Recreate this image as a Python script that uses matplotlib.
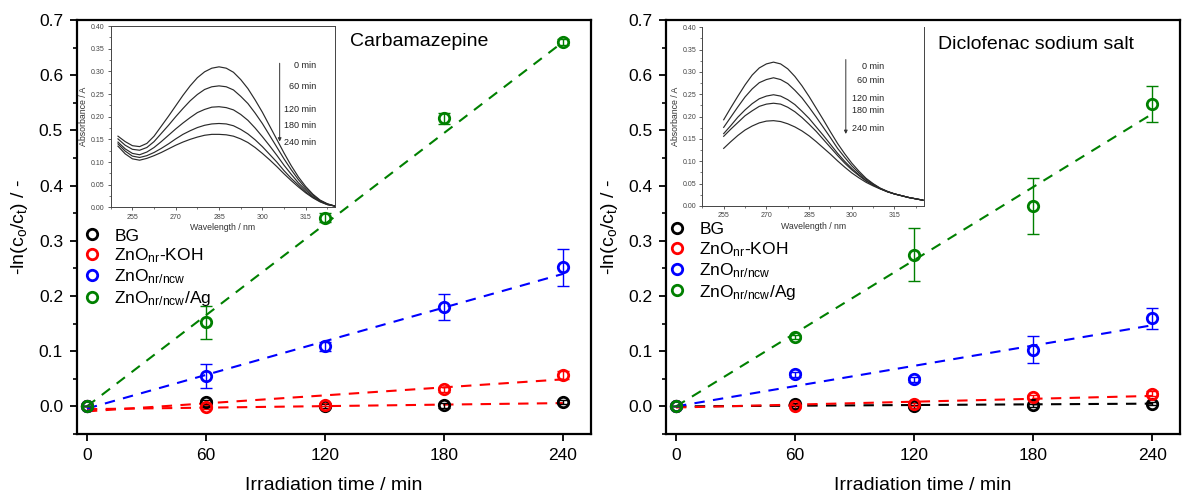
import matplotlib
matplotlib.use("Agg")
import matplotlib.pyplot as plt
import numpy as np

plt.rcParams['font.family'] = ['Liberation Sans', 'DejaVu Sans']
plt.rcParams['mathtext.fontset'] = 'custom'
plt.rcParams['mathtext.rm'] = 'Liberation Sans'
plt.rcParams['mathtext.it'] = 'Liberation Sans:italic'
plt.rcParams['mathtext.bf'] = 'Liberation Sans:bold'

# ---------------- data ----------------
time = [0, 60, 120, 180, 240]
fit_t = [0, 240]

series_labels = ['BG', r'ZnO$_{\rm nr}$-KOH', r'ZnO$_{\rm nr/ncw}$', r'ZnO$_{\rm nr/ncw}$/Ag']
series_colors = ['black', '#ff0000', '#0000ff', '#008000']

# Carbamazepine (left)
cbz_bg = [0.0, 0.008, 0.001, 0.002, 0.008]
cbz_bg_err = [0.0, 0.004, 0.004, 0.004, 0.003]
cbz_koh = [0.0, -0.001, 0.003, 0.031, 0.057]
cbz_koh_err = [0.0, 0.003, 0.003, 0.005, 0.007]
cbz_ncw = [0.0, 0.055, 0.109, 0.180, 0.252]
cbz_ncw_err = [0.0, 0.021, 0.008, 0.024, 0.033]
cbz_ag = [0.0, 0.152, 0.342, 0.522, 0.660]
cbz_ag_err = [0.0, 0.030, 0.008, 0.010, 0.005]
cbz_fit_bg = [-0.005, 0.006]
cbz_fit_koh = [-0.009, 0.049]
cbz_fit_ncw = [-0.004, 0.240]
cbz_fit_ag = [0.0, 0.660]

# Diclofenac (right)
dcf_bg = [0.0, 0.004, 0.0, 0.002, 0.005]
dcf_bg_err = [0.0, 0.003, 0.003, 0.003, 0.003]
dcf_koh = [0.0, 0.0, 0.004, 0.017, 0.023]
dcf_koh_err = [0.0, 0.002, 0.003, 0.004, 0.005]
dcf_ncw = [0.0, 0.058, 0.049, 0.103, 0.160]
dcf_ncw_err = [0.0, 0.005, 0.004, 0.024, 0.019]
dcf_ag = [0.0, 0.126, 0.275, 0.363, 0.548]
dcf_ag_err = [0.0, 0.004, 0.048, 0.050, 0.033]
dcf_fit_bg = [0.0, 0.005]
dcf_fit_koh = [-0.002, 0.019]
dcf_fit_ncw = [0.0, 0.147]
dcf_fit_ag = [0.0, 0.530]

# Inset spectra (read every 2.5 nm)
spec_times = ['0 min', '60 min', '120 min', '180 min', '240 min']
cbz_wl = np.arange(250, 325.1, 2.5)
cbz_abs_0 = [0.157, 0.145, 0.136, 0.134, 0.141, 0.157, 0.179, 0.201, 0.224, 0.247, 0.268,
             0.286, 0.299, 0.307, 0.310, 0.307, 0.298, 0.282, 0.262, 0.237, 0.210, 0.180,
             0.150, 0.120, 0.092, 0.067, 0.046, 0.029, 0.016, 0.008, 0.003]
cbz_abs_60 = [0.151, 0.137, 0.128, 0.126, 0.132, 0.145, 0.163, 0.181, 0.200, 0.218, 0.235,
              0.249, 0.260, 0.266, 0.268, 0.266, 0.259, 0.245, 0.229, 0.208, 0.185, 0.159,
              0.133, 0.107, 0.083, 0.061, 0.042, 0.027, 0.015, 0.007, 0.003]
cbz_abs_120 = [0.144, 0.129, 0.119, 0.116, 0.122, 0.132, 0.145, 0.159, 0.173, 0.186, 0.198,
               0.209, 0.216, 0.221, 0.222, 0.220, 0.215, 0.205, 0.192, 0.175, 0.156, 0.136,
               0.115, 0.093, 0.073, 0.054, 0.038, 0.024, 0.014, 0.007, 0.003]
cbz_abs_180 = [0.140, 0.124, 0.113, 0.110, 0.114, 0.121, 0.130, 0.140, 0.151, 0.161, 0.169,
               0.176, 0.181, 0.184, 0.185, 0.184, 0.180, 0.172, 0.162, 0.149, 0.134, 0.117,
               0.100, 0.081, 0.064, 0.049, 0.034, 0.022, 0.013, 0.006, 0.003]
cbz_abs_240 = [0.135, 0.118, 0.107, 0.104, 0.108, 0.114, 0.121, 0.129, 0.137, 0.144, 0.150,
               0.155, 0.159, 0.161, 0.161, 0.160, 0.157, 0.151, 0.143, 0.132, 0.119, 0.105,
               0.090, 0.074, 0.059, 0.045, 0.032, 0.021, 0.012, 0.006, 0.003]

dcf_wl = np.arange(255, 325.1, 2.5)
dcf_abs_0 = [0.193, 0.220, 0.246, 0.271, 0.293, 0.309, 0.318, 0.322, 0.318, 0.307, 0.290,
             0.269, 0.245, 0.219, 0.193, 0.166, 0.140, 0.117, 0.096, 0.078, 0.062, 0.050,
             0.040, 0.033, 0.027, 0.023, 0.019, 0.016, 0.013]
dcf_abs_60 = [0.176, 0.199, 0.222, 0.244, 0.262, 0.276, 0.283, 0.287, 0.283, 0.274, 0.259,
              0.242, 0.221, 0.199, 0.176, 0.153, 0.129, 0.109, 0.090, 0.074, 0.060, 0.049,
              0.039, 0.032, 0.027, 0.023, 0.019, 0.016, 0.013]
dcf_abs_120 = [0.162, 0.180, 0.199, 0.215, 0.229, 0.240, 0.246, 0.249, 0.246, 0.238, 0.227,
               0.212, 0.196, 0.177, 0.158, 0.138, 0.118, 0.100, 0.084, 0.070, 0.057, 0.047,
               0.039, 0.032, 0.027, 0.023, 0.019, 0.016, 0.013]
dcf_abs_180 = [0.156, 0.172, 0.187, 0.202, 0.213, 0.223, 0.228, 0.230, 0.228, 0.221, 0.211,
               0.198, 0.183, 0.167, 0.149, 0.131, 0.113, 0.096, 0.081, 0.068, 0.056, 0.047,
               0.039, 0.032, 0.027, 0.023, 0.019, 0.016, 0.013]
dcf_abs_240 = [0.129, 0.144, 0.158, 0.170, 0.179, 0.186, 0.190, 0.191, 0.189, 0.184, 0.177,
               0.168, 0.157, 0.144, 0.130, 0.116, 0.101, 0.087, 0.074, 0.063, 0.053, 0.045,
               0.038, 0.032, 0.027, 0.023, 0.019, 0.016, 0.013]

xticks_main = [0, 60, 120, 180, 240]

# ---------------- figure ----------------
fig = plt.figure(figsize=(11.82, 4.96), dpi=100)
axL = fig.add_axes([0.0651, 0.125, 0.4346, 0.8347])
axR = fig.add_axes([0.5635, 0.125, 0.4349, 0.8347])


def main_panel(ax, vals, errs, fits, fit_colors, title, title_xy, leg_anchor):
    for (v, e, c) in zip(vals, errs, series_colors):
        ax.errorbar(time, v, yerr=e, fmt='none', ecolor=c, elinewidth=1.0,
                    capsize=4, capthick=1.0, zorder=3)
    for (f, c) in zip(fits, fit_colors):
        ax.plot(fit_t, f, linestyle=(0, (5, 4)), color=c, lw=1.5, zorder=2)
    handles = []
    for (v, c, lab) in zip(vals, series_colors, series_labels):
        h, = ax.plot(time, v, 'o', mfc='none', mec=c, mew=2.0, ms=7.5,
                     label=lab, zorder=4)
        handles.append(h)
    ax.set_xlim(-5, 254)
    ax.set_ylim(-0.05, 0.7)
    ax.set_xticks(xticks_main)
    ax.set_yticks(np.arange(0, 0.71, 0.1))
    ax.set_yticks(np.arange(-0.05, 0.71, 0.05), minor=True)
    ax.yaxis.set_major_formatter(matplotlib.ticker.FormatStrFormatter('%.1f'))
    ax.tick_params(axis='both', which='major', direction='out', length=5,
                   width=1.3, labelsize=12.5, pad=5)
    ax.tick_params(axis='both', which='minor', direction='out', length=3, width=1.2)
    for s in ax.spines.values():
        s.set_linewidth(1.6)
    ax.set_xlabel('Irradiation time / min', fontsize=14, labelpad=10)
    ax.set_ylabel(r'-ln(c$_{\rm o}$/c$_{\rm t}$) / -', fontsize=14, labelpad=6)
    ax.text(title_xy[0], title_xy[1], title, transform=ax.transAxes,
            fontsize=14, ha='left', va='center')
    ax.legend(handles=handles, loc='upper left', bbox_to_anchor=leg_anchor,
              frameon=False, fontsize=12.5, handlelength=1.0, handletextpad=0.8,
              labelspacing=0.15, borderpad=0.2, borderaxespad=0.0)


main_panel(axL,
           [cbz_bg, cbz_koh, cbz_ncw, cbz_ag],
           [cbz_bg_err, cbz_koh_err, cbz_ncw_err, cbz_ag_err],
           [cbz_fit_bg, cbz_fit_koh, cbz_fit_ncw, cbz_fit_ag],
           ['#ff0000', '#ff0000', '#0000ff', '#008000'],
           'Carbamazepine', (0.531, 0.947), (0.005, 0.505))
main_panel(axR,
           [dcf_bg, dcf_koh, dcf_ncw, dcf_ag],
           [dcf_bg_err, dcf_koh_err, dcf_ncw_err, dcf_ag_err],
           [dcf_fit_bg, dcf_fit_koh, dcf_fit_ncw, dcf_fit_ag],
           ['black', '#ff0000', '#0000ff', '#008000'],
           'Diclofenac sodium salt', (0.529, 0.94), (-0.003, 0.52))


def inset(rect, wl, spectra, xlim, xticks, arrow_x, arrow_y, lab_x, lab_ys, no_top=False):
    ax = fig.add_axes(rect)
    ax.set_facecolor('white')
    for s in spectra:
        ax.plot(wl, s, color='#2a2a2a', lw=0.85)
    ax.set_xlim(*xlim)
    ax.set_ylim(0, 0.40)
    ax.set_xticks(xticks)
    ax.set_xticks(np.arange(xticks[0] - 7.5, xlim[1], 7.5), minor=True)
    ax.set_yticks(np.arange(0, 0.401, 0.05))
    ax.set_yticks(np.arange(0, 0.401, 0.025), minor=True)
    ax.yaxis.set_major_formatter(matplotlib.ticker.FormatStrFormatter('%.2f'))
    ax.tick_params(axis='both', which='major', direction='out', length=2.5,
                   width=0.6, labelsize=5, pad=2, colors='#444444')
    ax.tick_params(axis='both', which='minor', direction='out', length=1.5, width=0.5,
                   colors='#444444')
    for s in ax.spines.values():
        s.set_linewidth(0.7)
        s.set_color('#444444')
    if no_top:
        ax.spines['top'].set_visible(False)
    ax.set_xlabel('Wavelength / nm', fontsize=6.3, labelpad=2, color='#333333')
    ax.set_ylabel('Absorbance / A', fontsize=6.3, labelpad=2, color='#333333')
    ax.annotate('', xy=(arrow_x, arrow_y[1]), xytext=(arrow_x, arrow_y[0]),
                arrowprops=dict(arrowstyle='-|>', color='#333333', lw=0.7,
                                mutation_scale=5))
    for t, y in zip(spec_times, lab_ys):
        ax.text(lab_x, y, t, fontsize=6.5, ha='right', va='center', color='#222222')
    return ax


inset([0.0937, 0.582, 0.1898, 0.3655], cbz_wl,
      [cbz_abs_0, cbz_abs_60, cbz_abs_120, cbz_abs_180, cbz_abs_240],
      (250, 325.2), [255, 270, 285, 300, 315], 306.0, (0.324, 0.139),
      318.5, [0.314, 0.267, 0.216, 0.181, 0.144])
inset([0.5942, 0.5847, 0.1876, 0.3603], dcf_wl,
      [dcf_abs_0, dcf_abs_60, dcf_abs_120, dcf_abs_180, dcf_abs_240],
      (255, 325.4), [255, 270, 285, 300, 315], 297.9, (0.334, 0.155),
      311.3, [0.313, 0.280, 0.240, 0.213, 0.174], no_top=True)

fig.savefig('out.png', dpi=100)
